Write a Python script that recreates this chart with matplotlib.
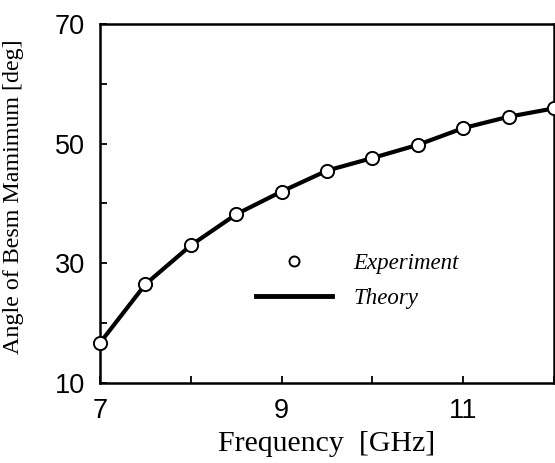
import matplotlib
matplotlib.use('Agg')
import matplotlib.pyplot as plt
from matplotlib.lines import Line2D

# frequency points [GHz] and measured / calculated angle [deg]
freq = [7, 7.5, 8, 8.5, 9, 9.5, 10, 10.5, 11, 11.5, 12]
experiment = [16.7, 26.5, 33.0, 38.2, 42.0, 45.5, 47.6, 49.8, 52.6, 54.5, 55.9]
theory = [16.7, 26.5, 33.0, 38.2, 42.0, 45.5, 47.6, 49.8, 52.6, 54.5, 55.9]

x_ticks = [7, 8, 9, 10, 11, 12]
x_labels = ['7', '', '9', '', '11', '']
y_ticks = [10, 20, 30, 40, 50, 60, 70]
y_labels = ['10', '', '30', '', '50', '', '70']

serif = 'Liberation Serif'
sans = 'Liberation Sans'

fig = plt.figure(figsize=(5.55, 4.63), dpi=100)
ax = fig.add_axes([100/555, 80/463, 454/555, 359/463])

ax.plot(freq, theory, color='black', linewidth=3, solid_capstyle='butt', zorder=2)
ax.plot(freq, experiment, linestyle='none', marker='o', markersize=9.5,
        markerfacecolor='white', markeredgecolor='black', markeredgewidth=1.4,
        clip_on=False, zorder=3)

ax.set_xlim(7, 12)
ax.set_ylim(10, 70)
ax.set_xticks(x_ticks)
ax.set_xticklabels(x_labels, fontfamily=sans, fontsize=19.5)
ax.set_yticks(y_ticks)
ax.set_yticklabels(y_labels, fontfamily=sans, fontsize=19.5)
ax.tick_params(direction='in', length=5, width=1.3, pad=11)
for s in ax.spines.values():
    s.set_linewidth(1.8)

ax.set_xlabel('Frequency  [GHz]', fontfamily=serif, fontsize=21.5, labelpad=5)
ax.set_ylabel('Angle of Besm Mamimum [deg]', fontfamily=serif, fontsize=17.3)
ax.yaxis.set_label_coords(-0.168, 0.518)

handles = [
    Line2D([], [], linestyle='none', marker='o', markersize=7.2,
           markerfacecolor='white', markeredgecolor='black', markeredgewidth=1.4),
    Line2D([], [], color='black', linewidth=3.5),
]
ax.legend(handles, ['Experiment', 'Theory'], loc='upper left',
          bbox_to_anchor=(0.344, 0.361), frameon=False, borderpad=0,
          borderaxespad=0, handlelength=3.3, handletextpad=0.95,
          labelspacing=0.6, prop={'family': serif, 'style': 'italic', 'size': 16.5})

fig.savefig('out.png', dpi=100)
